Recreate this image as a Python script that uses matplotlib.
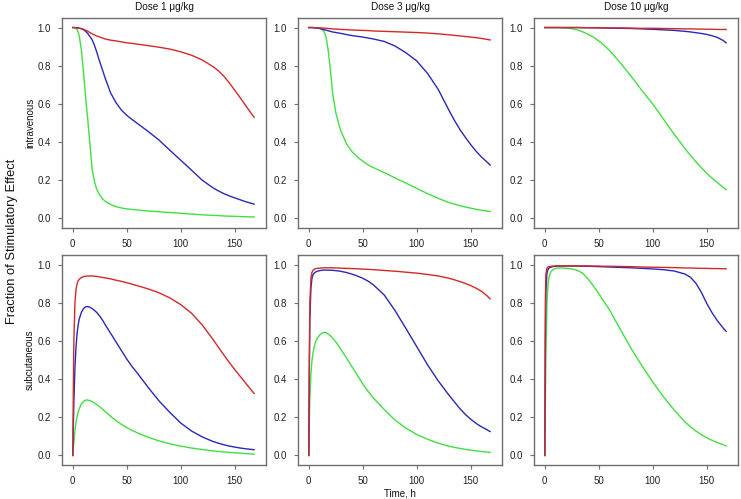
import numpy as np
import matplotlib
matplotlib.use("Agg")
import matplotlib.pyplot as plt
from matplotlib import font_manager as fm

# pick the regular (not narrow) Liberation Sans file
fpath = None
for f in fm.findSystemFonts():
    if f.endswith('LiberationSans-Regular.ttf'):
        fpath = f
        break
if fpath:
    fm.fontManager.addfont(fpath)
    fam = fm.FontProperties(fname=fpath).get_name()
else:
    fam = 'DejaVu Sans'
plt.rcParams['font.family'] = [fam, 'DejaVu Sans']

t = [0, 0.5, 1, 2, 3, 4, 5, 6, 8, 10, 12, 14, 16, 18, 20, 22, 25, 28, 30, 35, 40, 45, 50, 55,
     60, 70, 80, 90, 100, 110, 120, 130, 135, 140, 145, 150, 155, 160, 165, 168]

doses = ["Dose 1 \u03bcg/kg", "Dose 3 \u03bcg/kg", "Dose 10 \u03bcg/kg"]
routes = ["intravenous", "subcutaneous"]

# intravenous
iv1_red = [1.0, 1.0, 1.0, 0.999, 0.999, 0.998, 0.997, 0.996, 0.994, 0.991, 0.986, 0.98, 0.973, 0.967,
           0.961, 0.956, 0.95, 0.944, 0.94, 0.934, 0.93, 0.925, 0.92, 0.917,
           0.913, 0.905, 0.897, 0.887, 0.873, 0.855, 0.83, 0.795, 0.773, 0.745, 0.71, 0.672, 0.633, 0.593, 0.553, 0.53]
iv1_blue = [1.0, 1.0, 1.0, 1.0, 0.999, 0.999, 0.998, 0.997, 0.994, 0.988, 0.98, 0.968, 0.952, 0.935,
            0.908, 0.875, 0.82, 0.77, 0.735, 0.658, 0.607, 0.568, 0.54, 0.518,
            0.497, 0.455, 0.41, 0.357, 0.305, 0.253, 0.2, 0.16, 0.144, 0.13, 0.118, 0.108, 0.098, 0.088, 0.08, 0.075]
iv1_green = [1.0, 1.0, 1.0, 0.998, 0.995, 0.99, 0.975, 0.955, 0.88, 0.76, 0.63, 0.51, 0.38, 0.255,
             0.195, 0.155, 0.122, 0.1, 0.09, 0.073, 0.062, 0.055, 0.05, 0.047,
             0.044, 0.039, 0.035, 0.031, 0.027, 0.023, 0.019, 0.016, 0.015, 0.013, 0.012, 0.011, 0.01, 0.009, 0.008, 0.008]

iv3_red = [1.0, 1.0, 1.0, 1.0, 1.0, 1.0, 0.999, 0.999, 0.999, 0.998, 0.998, 0.997, 0.996, 0.995,
           0.994, 0.993, 0.992, 0.991, 0.99, 0.989, 0.987, 0.986, 0.985, 0.984,
           0.982, 0.98, 0.978, 0.976, 0.974, 0.971, 0.967, 0.962, 0.959, 0.956, 0.953, 0.95, 0.947, 0.943, 0.938, 0.935]
iv3_blue = [1.0, 1.0, 1.0, 1.0, 1.0, 0.999, 0.999, 0.998, 0.997, 0.995, 0.992, 0.989, 0.986, 0.983,
            0.98, 0.977, 0.974, 0.971, 0.969, 0.963, 0.958, 0.954, 0.95, 0.945,
            0.94, 0.927, 0.903, 0.868, 0.825, 0.76, 0.675, 0.565, 0.513, 0.466, 0.425, 0.387, 0.352, 0.322, 0.296, 0.28]
iv3_green = [1.0, 1.0, 1.0, 1.0, 1.0, 1.0, 1.0, 1.0, 0.999, 0.997, 0.99, 0.98, 0.95, 0.88,
             0.78, 0.66, 0.555, 0.49, 0.455, 0.39, 0.35, 0.322, 0.3, 0.28,
             0.266, 0.24, 0.212, 0.185, 0.157, 0.13, 0.105, 0.083, 0.075, 0.067, 0.06, 0.054, 0.048, 0.043, 0.039, 0.036]

iv10_red = [1.0, 1.0, 1.0, 1.0, 1.0, 1.0, 1.0, 1.0, 1.0, 1.0, 1.0, 1.0, 1.0, 1.0,
            1.0, 1.0, 1.0, 1.0, 1.0, 1.0, 0.999, 0.999, 0.999, 0.998,
            0.998, 0.998, 0.997, 0.996, 0.996, 0.995, 0.994, 0.993, 0.993, 0.992, 0.992, 0.991, 0.991, 0.99, 0.99, 0.99]
iv10_blue = [1.0, 1.0, 1.0, 1.0, 1.0, 1.0, 1.0, 1.0, 1.0, 1.0, 1.0, 1.0, 1.0, 1.0,
             1.0, 1.0, 1.0, 1.0, 1.0, 0.999, 0.999, 0.999, 0.998, 0.998,
             0.997, 0.996, 0.995, 0.993, 0.991, 0.988, 0.985, 0.98, 0.977, 0.973, 0.969, 0.964, 0.957, 0.948, 0.933, 0.92]
iv10_green = [1.0, 1.0, 1.0, 1.0, 1.0, 1.0, 1.0, 1.0, 1.0, 1.0, 1.0, 0.999, 0.999, 0.998,
              0.997, 0.996, 0.994, 0.99, 0.988, 0.978, 0.965, 0.95, 0.93, 0.907,
              0.88, 0.815, 0.745, 0.67, 0.6, 0.52, 0.44, 0.365, 0.33, 0.297, 0.266, 0.237, 0.211, 0.187, 0.164, 0.15]

# subcutaneous
sc1_red = [0.0, 0.35, 0.6, 0.8, 0.87, 0.9, 0.915, 0.923, 0.932, 0.937, 0.939, 0.94, 0.94, 0.94,
           0.939, 0.938, 0.935, 0.932, 0.93, 0.925, 0.918, 0.912, 0.905, 0.897,
           0.889, 0.872, 0.852, 0.825, 0.79, 0.745, 0.683, 0.607, 0.566, 0.526, 0.487, 0.45, 0.415, 0.38, 0.345, 0.325]
sc1_blue = [0.0, 0.15, 0.28, 0.46, 0.57, 0.64, 0.685, 0.715, 0.75, 0.77, 0.779, 0.78, 0.776, 0.769,
            0.76, 0.75, 0.73, 0.705, 0.685, 0.64, 0.595, 0.55, 0.505, 0.465,
            0.43, 0.355, 0.285, 0.225, 0.17, 0.128, 0.097, 0.073, 0.064, 0.056, 0.049, 0.044, 0.039, 0.035, 0.032, 0.03]
sc1_green = [0.0, 0.04, 0.07, 0.13, 0.175, 0.205, 0.228, 0.245, 0.27, 0.283, 0.29, 0.29, 0.287, 0.282,
             0.275, 0.267, 0.255, 0.24, 0.23, 0.205, 0.183, 0.163, 0.146, 0.131,
             0.118, 0.095, 0.076, 0.061, 0.049, 0.039, 0.031, 0.024, 0.021, 0.018, 0.016, 0.014, 0.012, 0.01, 0.008, 0.007]

sc3_red = [0.0, 0.5, 0.8, 0.93, 0.96, 0.97, 0.975, 0.978, 0.98, 0.981, 0.982, 0.983, 0.983, 0.983,
           0.983, 0.983, 0.982, 0.982, 0.981, 0.98, 0.979, 0.978, 0.976, 0.975,
           0.973, 0.969, 0.965, 0.96, 0.955, 0.948, 0.94, 0.928, 0.92, 0.911, 0.901, 0.89, 0.876, 0.86, 0.837, 0.82]
sc3_blue = [0.0, 0.45, 0.72, 0.88, 0.93, 0.948, 0.955, 0.96, 0.965, 0.968, 0.97, 0.971, 0.971, 0.971,
            0.97, 0.97, 0.968, 0.966, 0.964, 0.958, 0.95, 0.94, 0.928, 0.913,
            0.893, 0.84, 0.758, 0.665, 0.57, 0.475, 0.39, 0.315, 0.28, 0.245, 0.215, 0.19, 0.168, 0.15, 0.135, 0.125]
sc3_green = [0.0, 0.18, 0.3, 0.43, 0.5, 0.54, 0.57, 0.59, 0.615, 0.63, 0.64, 0.645, 0.643, 0.636,
             0.627, 0.615, 0.595, 0.57, 0.553, 0.51, 0.465, 0.42, 0.375, 0.335,
             0.3, 0.24, 0.185, 0.143, 0.11, 0.085, 0.064, 0.048, 0.042, 0.037, 0.032, 0.028, 0.024, 0.021, 0.018, 0.016]

sc10_red = [0.0, 0.8, 0.95, 0.98, 0.987, 0.989, 0.99, 0.991, 0.992, 0.993, 0.993, 0.993, 0.993, 0.993,
            0.993, 0.993, 0.993, 0.993, 0.993, 0.993, 0.993, 0.992, 0.992, 0.991,
            0.991, 0.99, 0.989, 0.987, 0.986, 0.985, 0.984, 0.982, 0.982, 0.981, 0.98, 0.98, 0.979, 0.979, 0.978, 0.978]
sc10_blue = [0.0, 0.6, 0.86, 0.955, 0.975, 0.982, 0.985, 0.987, 0.99, 0.991, 0.992, 0.992, 0.992, 0.992,
             0.992, 0.992, 0.992, 0.992, 0.992, 0.991, 0.991, 0.99, 0.989, 0.988,
             0.987, 0.985, 0.983, 0.98, 0.977, 0.973, 0.966, 0.95, 0.933, 0.902, 0.855, 0.797, 0.747, 0.705, 0.669, 0.65]
sc10_green = [0.0, 0.25, 0.5, 0.8, 0.9, 0.935, 0.955, 0.965, 0.975, 0.98, 0.982, 0.982, 0.982, 0.981,
              0.98, 0.979, 0.977, 0.973, 0.97, 0.955, 0.925, 0.888, 0.848, 0.805,
              0.762, 0.66, 0.56, 0.47, 0.385, 0.307, 0.237, 0.175, 0.15, 0.128, 0.109, 0.093, 0.079, 0.067, 0.057, 0.05]

panels = [[(iv1_green, iv1_blue, iv1_red), (iv3_green, iv3_blue, iv3_red), (iv10_green, iv10_blue, iv10_red)],
          [(sc1_green, sc1_blue, sc1_red), (sc3_green, sc3_blue, sc3_red), (sc10_green, sc10_blue, sc10_red)]]
colors = ['#40E040', '#2828BB', '#D42828']

W, H = 741, 499
fig = plt.figure(figsize=(W / 100, H / 100), dpi=100)

lefts = [62, 298, 534]
tops = [18, 255]
pw, ph = 204, 210
box = '#6E6E6E'

for r in range(2):
    for c in range(3):
        ax = fig.add_axes([lefts[c] / W, (H - tops[r] - ph) / H, pw / W, ph / H])
        for ys, col in zip(panels[r][c], colors):
            ax.plot(t, ys, color=col, lw=1.0)
        ax.set_xlim(-10, 179)
        ax.set_ylim(-0.05, 1.05)
        ax.set_xticks([0, 50, 100, 150])
        ax.set_yticks([0, 0.2, 0.4, 0.6, 0.8, 1.0])
        ax.set_yticklabels(['0.0', '0.2', '0.4', '0.6', '0.8', '1.0'])
        ax.tick_params(direction='out', length=3, width=0.8, color=box,
                       labelsize=7, labelcolor='#222222', pad=5)
        for s in ax.spines.values():
            s.set_color(box)
            s.set_linewidth(1.0)
        if r == 0:
            ax.set_title(doses[c], fontsize=7.2, color='#111111', pad=6)
        if c == 0:
            fig.text(30 / W, (H - tops[r] - ph / 2) / H, routes[r], rotation=90,
                     ha='center', va='center', fontsize=7, color='#111111')

fig.text(12 / W, (H - 241) / H, 'Fraction of Stimulatory Effect', rotation=90,
         ha='center', va='center', fontsize=9.3, color='#111111')
fig.text(400 / W, (H - 493) / H, 'Time, h', ha='center', va='center',
         fontsize=7, color='#111111')

fig.savefig('out.png', dpi=100)
